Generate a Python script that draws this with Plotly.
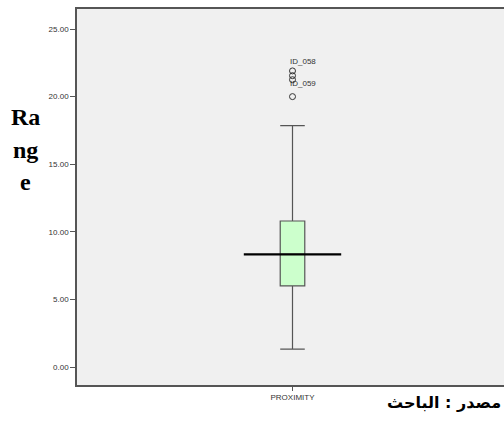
import plotly.graph_objects as go

# ---- data ----
category = ["PROXIMITY"]
q1_vals = [6.0]
median_vals = [8.33]
q3_vals = [10.8]
lower_whisker = [1.33]
upper_whisker = [17.85]
outlier_values = [21.9, 21.55, 21.25, 20.0]
outlier_labels = ["ID_058", "", "", "ID_059"]
y_tick_vals = [0, 5, 10, 15, 20, 25]
y_tick_text = ["0.00", "5.00", "10.00", "15.00", "20.00", "25.00"]

# ---- style ----
W, H = 510, 421          # plot area runs past the 504px window edge, as in the reference
ML, MR, MT, MB = 77, 0, 9, 36
box_center = 0.0
box_width = 0.057
median_half = 0.113

fig = go.Figure()

fig.add_trace(go.Box(
    x=[box_center], q1=q1_vals, median=median_vals, q3=q3_vals,
    lowerfence=lower_whisker, upperfence=upper_whisker,
    width=box_width, whiskerwidth=1,
    fillcolor="#CCFFCC", line=dict(color="#555555", width=1.2),
    boxpoints=False, showlegend=False, hoverinfo="skip",
))

# wide SPSS-style median line
fig.add_trace(go.Scatter(
    x=[box_center - median_half, box_center + median_half],
    y=[median_vals[0], median_vals[0]],
    mode="lines", line=dict(color="#000000", width=2.2),
    showlegend=False, hoverinfo="skip",
))

# outliers
fig.add_trace(go.Scatter(
    x=[box_center] * len(outlier_values), y=outlier_values,
    mode="markers",
    marker=dict(symbol="circle-open", size=6, color="#333333", line=dict(width=1)),
    showlegend=False, hoverinfo="skip",
))

annotations = []
label_shift = {"ID_058": 3, "ID_059": 7}
for v, lab in zip(outlier_values, outlier_labels):
    if lab:
        annotations.append(dict(
            x=box_center, y=v, xref="x", yref="y", text=lab, showarrow=False,
            xanchor="left", yanchor="bottom", xshift=-5, yshift=label_shift[lab],
            font=dict(family="Liberation Sans, Arial", size=8, color="#333333"),
        ))

plot_h = H - MT - MB
plot_w = W - ML - MR
for txt, ypx in [("Ra", 117), ("ng", 150), ("e", 182)]:
    annotations.append(dict(
        x=(25 - ML) / plot_w, y=(H - MB - ypx) / plot_h, xref="paper", yref="paper",
        text="<b>" + txt + "</b>", showarrow=False, xanchor="center", yanchor="middle",
        font=dict(family="Liberation Serif, Times New Roman", size=24, color="#000000"),
    ))

annotations.append(dict(
    x=(505 - ML) / plot_w, y=(H - MB - 402) / plot_h, xref="paper", yref="paper",
    text="<b>مصدر : الباحث</b>", showarrow=False, xanchor="right", yanchor="middle",
    font=dict(family="DejaVu Sans", size=16, color="#000000"),
))

fig.update_layout(
    width=W, height=H,
    margin=dict(l=ML, r=MR, t=MT, b=MB, pad=0),
    paper_bgcolor="#FFFFFF", plot_bgcolor="#F0F0F0",
    annotations=annotations,
    showlegend=False,
)

fig.update_xaxes(
    range=[-0.5, 0.5], tickvals=[box_center], ticktext=category,
    showgrid=False, zeroline=False,
    showline=True, linecolor="#555555", linewidth=1.5, mirror=True,
    ticks="outside", ticklen=4, tickcolor="#555555",
    tickfont=dict(family="Liberation Sans, Arial", size=8, color="#333333"),
)
fig.update_yaxes(
    range=[-1.33, 26.48], tickvals=y_tick_vals, ticktext=y_tick_text,
    showgrid=False, zeroline=False,
    showline=True, linecolor="#555555", linewidth=1.5, mirror=True,
    ticks="outside", ticklen=5, tickcolor="#555555",
    tickfont=dict(family="Liberation Sans, Arial", size=8, color="#333333"),
)

fig.write_html(
    "out.html",
    config={"displayModeBar": False},
    post_script="document.body.style.margin='0';document.body.style.overflow='hidden';",
)
